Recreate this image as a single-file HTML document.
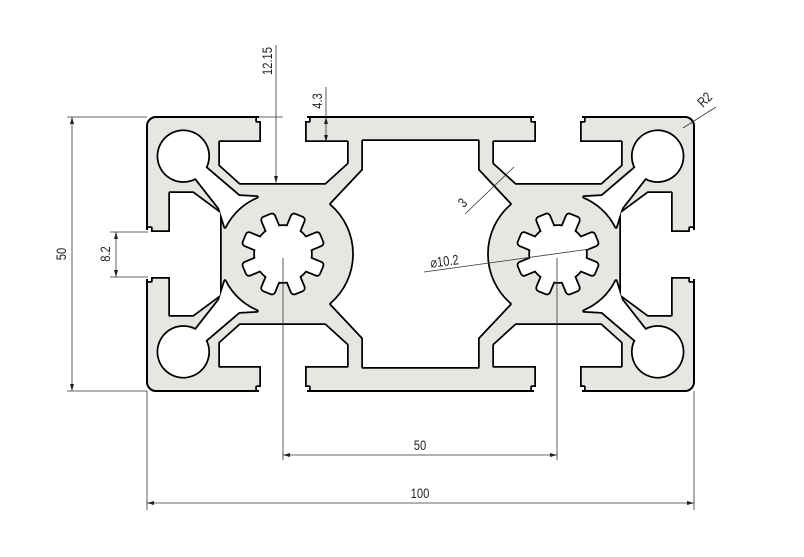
<!DOCTYPE html>
<html><head><meta charset="utf-8"><style>
html,body{margin:0;padding:0;background:#fff;}
svg{display:block;}
text{font-family:"Liberation Sans",sans-serif;font-size:13px;fill:#222;}
</style></head><body>
<svg width="804" height="557" viewBox="0 0 804 557" xmlns="http://www.w3.org/2000/svg">
<defs>
  <clipPath id="inner"><rect x="148" y="118" width="545" height="272"/></clipPath>
  <path id="cc" d="M205.6,167.5 L239,196 L257,197 A63,63 0 0 0 225,227 L219,208 L195.5,178 A25,25 0 1 1 205.6,167.5 Z"/>
  <path id="ts" d="M257,108 L257,121 L261,121 L261,142 L220,142 L220,165 L240,183 L325,183 L347,163 L347,142 L305,142 L305,121 L309,121 L309,108 Z"/>
  <path id="ls" d="M138,228 L151,228 L151,232 L170,232 L170,193 L193,193 L220,213 L220,295 L193,315 L170,315 L170,277 L151,277 L151,281 L138,281 Z"/>
  <g id="gear">
    <circle cx="0" cy="0" r="28"/>
    <g id="tooth"><rect x="-6.5" y="-41" width="13" height="20" rx="2.5" transform="rotate(22.5)"/></g>
    <use href="#tooth" transform="rotate(45)"/>
    <use href="#tooth" transform="rotate(90)"/>
    <use href="#tooth" transform="rotate(135)"/>
    <use href="#tooth" transform="rotate(180)"/>
    <use href="#tooth" transform="rotate(225)"/>
    <use href="#tooth" transform="rotate(270)"/>
    <use href="#tooth" transform="rotate(315)"/>
  </g>
  <g id="holes">
    <use href="#cc"/>
    <use href="#cc" transform="translate(841,0) scale(-1,1)"/>
    <use href="#cc" transform="translate(0,508) scale(1,-1)"/>
    <use href="#cc" transform="translate(841,508) scale(-1,-1)"/>
    <use href="#ts"/>
    <use href="#ts" transform="translate(841,0) scale(-1,1)"/>
    <use href="#ts" transform="translate(0,508) scale(1,-1)"/>
    <use href="#ts" transform="translate(841,508) scale(-1,-1)"/>
    <use href="#ls"/>
    <use href="#ls" transform="translate(841,0) scale(-1,1)"/>
    <path d="M363,141 L478,141 L478,170 L510,204 A66,66 0 0 0 510,304 L478,338 L478,367 L363,367 L363,338 L331,304 A66,66 0 0 0 331,204 L363,170 Z"/>
    <use href="#gear" transform="translate(283,254)"/>
    <use href="#gear" transform="translate(558,254)"/>
  </g>
</defs>

<rect x="147" y="117" width="547" height="274" rx="9" fill="#e6e6e2" stroke="#000" stroke-width="2"/>
<g clip-path="url(#inner)">
  <g fill="#000" stroke="#000" stroke-width="3.5" stroke-linejoin="round"><use href="#holes"/></g>
  <g fill="#fff"><use href="#holes"/></g>
</g>
<!-- erase border across openings -->
<g fill="#fff">
  <rect x="259" y="114" width="48" height="5"/>
  <rect x="534" y="114" width="48" height="5"/>
  <rect x="259" y="389" width="48" height="5"/>
  <rect x="534" y="389" width="48" height="5"/>
  <rect x="144" y="230" width="5" height="49"/>
  <rect x="692" y="230" width="5" height="49"/>
</g>

<g stroke="#333" stroke-width="0.8" fill="none">
  <line x1="72" y1="117" x2="72" y2="391"/>
  <line x1="67" y1="117" x2="147" y2="117"/>
  <line x1="67" y1="391" x2="147" y2="391"/>
  <line x1="116" y1="232" x2="116" y2="277"/>
  <line x1="110" y1="232" x2="148" y2="232"/>
  <line x1="110" y1="277" x2="148" y2="277"/>
  <line x1="276" y1="45" x2="276" y2="183"/>
  <line x1="259" y1="117" x2="283" y2="117"/>
  <line x1="326" y1="87" x2="326" y2="142"/>
  <line x1="683" y1="128" x2="716" y2="107"/>
  <line x1="465" y1="214" x2="514" y2="167"/>
  <line x1="424" y1="272" x2="590" y2="249"/>
  <line x1="283" y1="258" x2="283" y2="460"/>
  <line x1="557" y1="258" x2="557" y2="460"/>
  <line x1="283" y1="455" x2="557" y2="455"/>
  <line x1="147" y1="391" x2="147" y2="510"/>
  <line x1="694" y1="391" x2="694" y2="510"/>
  <line x1="147" y1="503" x2="694" y2="503"/>
</g>
<g fill="#222">
  <path d="M72,117 l-2,7 h4z M72,391 l-2,-7 h4z"/>
  <path d="M116,232 l-2,7 h4z M116,277 l-2,-7 h4z"/>
  <path d="M276,183 l-2,-7 h4z"/>
  <path d="M326,117 l-2,7 h4z M326,142 l-2,-7 h4z"/>
  <path d="M283,455 l7,-2 v4z M557,455 l-7,-2 v4z"/>
  <path d="M147,503 l7,-2 v4z M694,503 l-7,-2 v4z"/>
</g>

<text transform="translate(66,254) rotate(-90) scale(0.8,1)" text-anchor="middle" style="font-size:14px">50</text>
<text transform="translate(110,254) rotate(-90) scale(0.8,1)" text-anchor="middle" style="font-size:14px">8.2</text>
<text transform="translate(272,61) rotate(-90) scale(0.8,1)" text-anchor="middle" style="font-size:14px">12.15</text>
<text transform="translate(322,101) rotate(-90) scale(0.8,1)" text-anchor="middle" style="font-size:14px">4.3</text>
<text transform="translate(708,103) rotate(-45) scale(0.8,1)" text-anchor="middle" style="font-size:14px">R2</text>
<text transform="translate(466,206) rotate(-45) scale(0.8,1)" text-anchor="middle" style="font-size:14px">3</text>
<text transform="translate(445,266) rotate(-7) scale(0.8,1)" text-anchor="middle" style="font-size:14px">⌀10.2</text>
<text transform="translate(420,450) scale(0.8,1)" text-anchor="middle" style="font-size:14px">50</text>
<text transform="translate(420,498) scale(0.8,1)" text-anchor="middle" style="font-size:14px">100</text>
</svg>
</body></html>
